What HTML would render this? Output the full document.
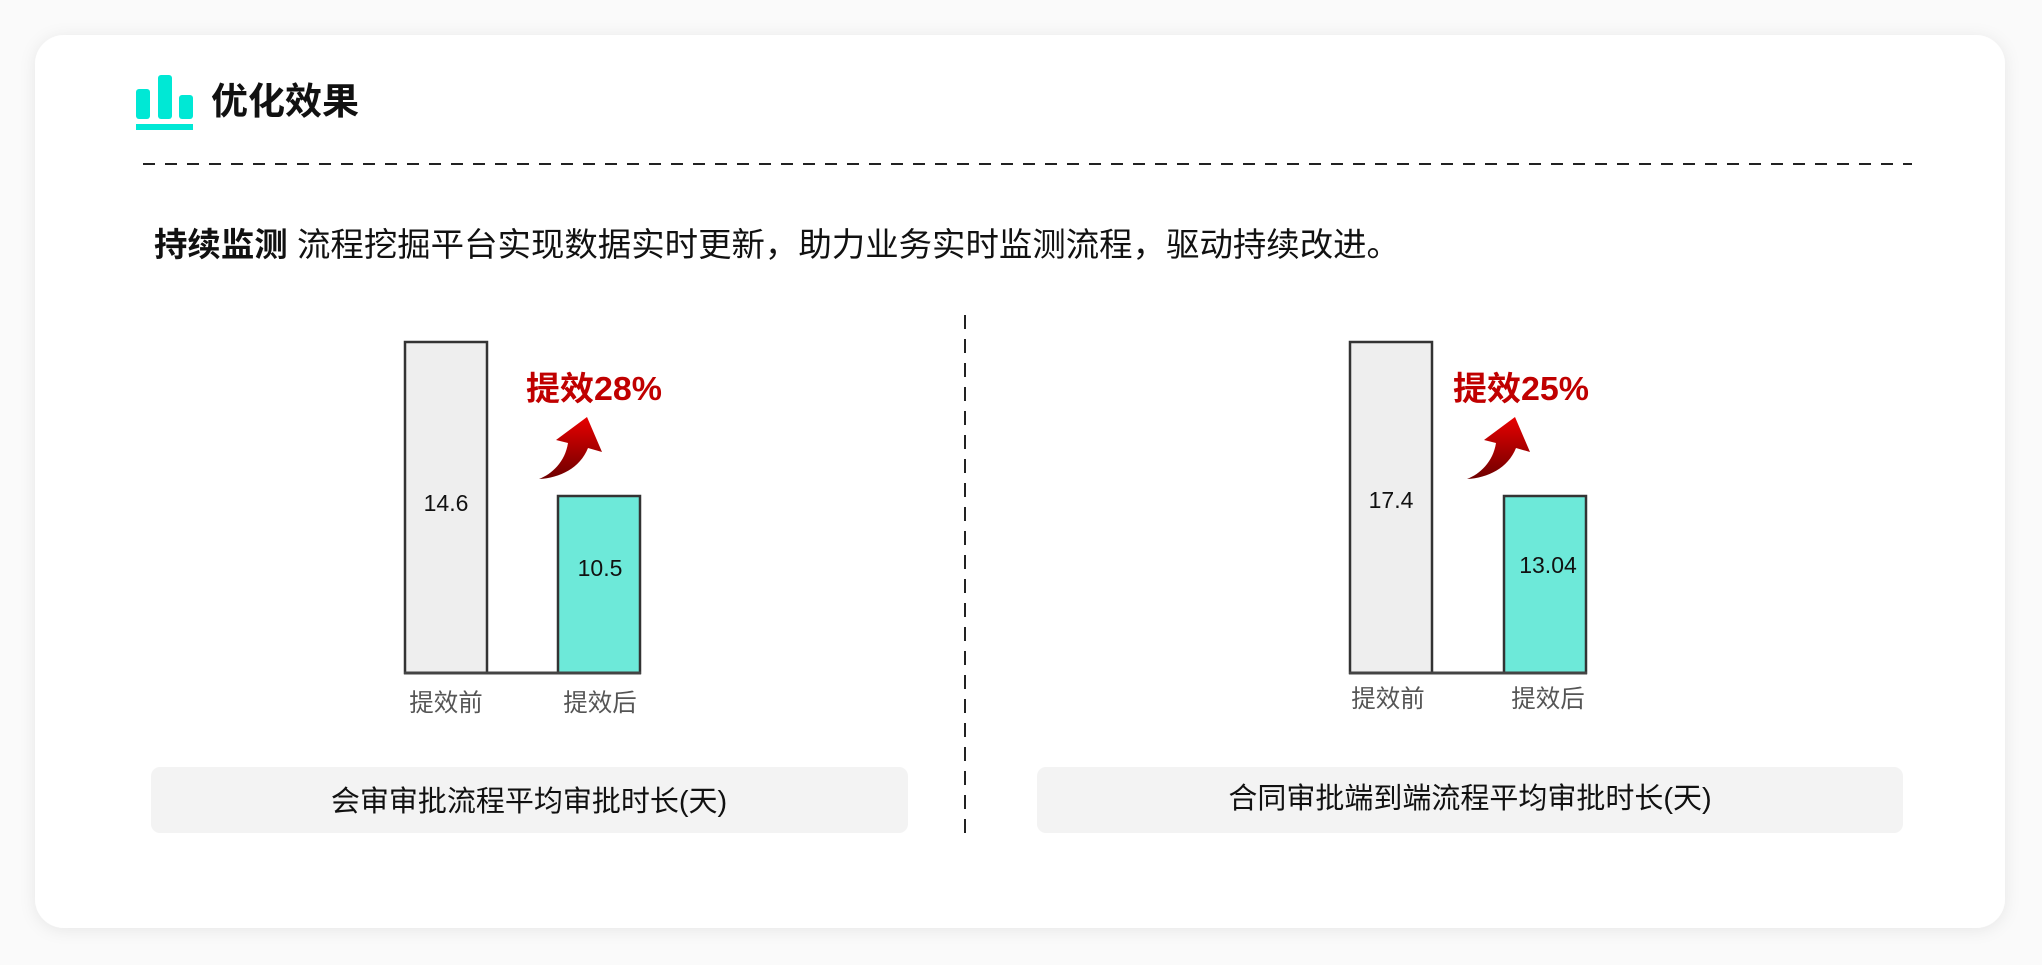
<!DOCTYPE html>
<html><head><meta charset="utf-8"><style>
html,body{margin:0;padding:0;background:#fafafa;}
body{width:2042px;height:965px;overflow:hidden;position:relative;}
</style></head><body>
<svg width="2042" height="965" viewBox="0 0 2042 965" xmlns="http://www.w3.org/2000/svg" style="position:absolute;left:0;top:0">
<defs>
<filter id="sh" x="-5%" y="-5%" width="110%" height="110%"><feDropShadow dx="0" dy="2" stdDeviation="8" flood-color="#000" flood-opacity="0.08"/></filter>
<linearGradient id="ar" x1="0" y1="0" x2="0" y2="1"><stop offset="0" stop-color="#e80000"/><stop offset="1" stop-color="#6e0000"/></linearGradient>
</defs>
<rect x="35" y="35" width="1970" height="893" rx="29" fill="#fff" filter="url(#sh)"/>
<rect x="136" y="89" width="14" height="30" rx="3" fill="#00e8d5"/>
<rect x="158" y="75" width="14" height="44" rx="3" fill="#00e8d5"/>
<rect x="179" y="95" width="14" height="24" rx="3" fill="#00e8d5"/>
<rect x="136" y="124" width="57" height="6" fill="#00e8d5"/>
<g font-family="Liberation Sans, Noto Sans CJK SC, sans-serif">
<text x="211" y="114" font-size="37" font-weight="bold" fill="#111">优化效果</text>
<line x1="143" y1="164" x2="1912" y2="164" stroke="#222" stroke-width="2" stroke-dasharray="12,10"/>
<text x="154" y="256" font-size="33" fill="#111" textLength="1246" lengthAdjust="spacingAndGlyphs"><tspan font-weight="bold">持续监测</tspan> 流程挖掘平台实现数据实时更新，助力业务实时监测流程，驱动持续改进。</text>
<line x1="965" y1="315" x2="965" y2="833" stroke="#222" stroke-width="2" stroke-dasharray="14,10"/>
<rect x="405" y="342" width="82" height="331" fill="#eeeeee" stroke="#333" stroke-width="2.5"/>
<rect x="558" y="496" width="82" height="177" fill="#6de9d9" stroke="#333" stroke-width="2.5"/>
<line x1="404" y1="673" x2="641" y2="673" stroke="#444" stroke-width="3"/>
<text x="446" y="511" font-size="23" fill="#111" text-anchor="middle">14.6</text>
<text x="600" y="576" font-size="23" fill="#111" text-anchor="middle">10.5</text>
<text x="446" y="711" font-size="24.5" fill="#555" text-anchor="middle">提效前</text>
<text x="600" y="711" font-size="24.5" fill="#555" text-anchor="middle">提效后</text>
<text x="526" y="400" font-size="33" font-weight="bold" fill="#c00000" textLength="136" lengthAdjust="spacingAndGlyphs">提效28%</text>
<path d="M539,479 C560,478 580,468 588,448 L602,452 L587,417 L556,440 L568,443 C565,462 552,474 539,479 Z" fill="url(#ar)"/>
<rect x="151" y="767" width="757" height="66" rx="9" fill="#f3f3f3"/>
<text x="529" y="811" font-size="29" fill="#111" text-anchor="middle">会审审批流程平均审批时长(天)</text>
<rect x="1350" y="342" width="82" height="331" fill="#eeeeee" stroke="#333" stroke-width="2.5"/>
<rect x="1504" y="496" width="82" height="177" fill="#6de9d9" stroke="#333" stroke-width="2.5"/>
<line x1="1349" y1="673" x2="1587" y2="673" stroke="#444" stroke-width="3"/>
<text x="1391" y="508" font-size="23" fill="#111" text-anchor="middle">17.4</text>
<text x="1548" y="573" font-size="23" fill="#111" text-anchor="middle">13.04</text>
<text x="1388" y="707" font-size="24.5" fill="#555" text-anchor="middle">提效前</text>
<text x="1548" y="707" font-size="24.5" fill="#555" text-anchor="middle">提效后</text>
<text x="1453" y="400" font-size="33" font-weight="bold" fill="#c00000" textLength="136" lengthAdjust="spacingAndGlyphs">提效25%</text>
<path transform="translate(928,0)" d="M539,479 C560,478 580,468 588,448 L602,452 L587,417 L556,440 L568,443 C565,462 552,474 539,479 Z" fill="url(#ar)"/>
<rect x="1037" y="767" width="866" height="66" rx="9" fill="#f3f3f3"/>
<text x="1470" y="808" font-size="29" fill="#111" text-anchor="middle">合同审批端到端流程平均审批时长(天)</text>
</g>
</svg>
</body></html>
